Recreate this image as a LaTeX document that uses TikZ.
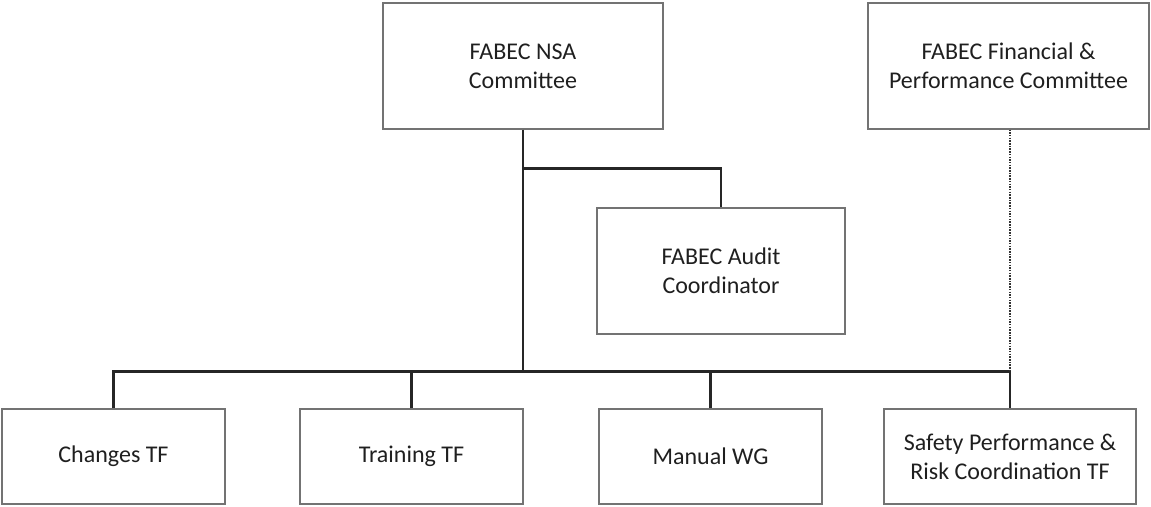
\documentclass[tikz,border=0pt]{standalone}
\usepackage{fontspec}
\setmainfont{Carlito}
\usepackage{tikz}
\usetikzlibrary{positioning}
\usepackage{xcolor}

\begin{document}
\begin{tikzpicture}[x=1pt,y=-1pt,
	unit/.style={draw=black!55,line width=1.1pt,rectangle,align=center,text=black!88,
		font=\fontsize{24}{29}\selectfont,inner sep=0pt},
	link/.style={line width=2.3pt,black!85}]
	\useasboundingbox (0,0) rectangle (1151,506);
	% top row
	\node [unit,minimum width=280,minimum height=126] (nsa) at (523,66) {FABEC NSA\\Committee};
	\node [unit,minimum width=281,minimum height=126] (fin) at (1008.5,66) {FABEC Financial \&\\Performance Committee};
	\node [unit,minimum width=248,minimum height=126] (audit) at (721,271) {FABEC Audit\\Coordinator};
	% task forces
	\node [unit,minimum width=223,minimum height=95] (changes) at (113.5,456.5) {Changes TF};
	\node [unit,minimum width=223,minimum height=95] (training) at (411.5,456.5) {Training TF};
	\node [unit,minimum width=223,minimum height=95] (manual) at (710.5,456.5) {Manual WG};
	\node [unit,minimum width=252,minimum height=95] (safety) at (1010,456.5) {Safety Performance \&\\Risk Coordination TF};
	\coordinate (fork) at (523,168.5);
	\coordinate (bus) at (523,371.5);
	\draw [link] (nsa.south) -- (bus);
	\draw [link] (fork) -| (audit.north);
	\draw [link] (changes.north) |- (bus) -| (safety.north);
	\draw [link] (training.north) -- (training.north |- bus);
	\draw [link] (manual.north) -- (manual.north |- bus);
	\draw [line width=1.4pt,black!80,dash pattern=on 1.5pt off 1.2pt] (safety.north |- fin.south) -- (safety.north |- bus);
\end{tikzpicture}
\end{document}
